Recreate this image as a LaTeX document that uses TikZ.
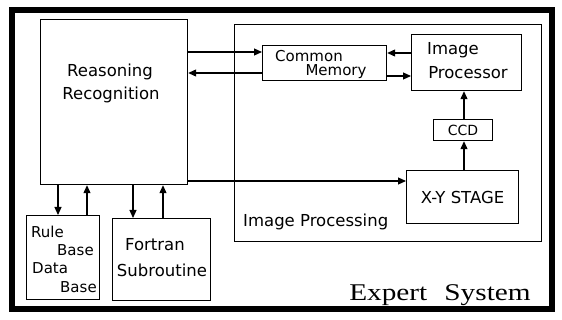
\documentclass[tikz,border=0pt]{standalone}
\usepackage{fontspec}
\setmainfont{Liberation Serif}
\newfontfamily\diagsans{DejaVu Sans}
\usetikzlibrary{arrows.meta}
\begin{document}
\begin{tikzpicture}[x=1pt,y=-1pt,
  box/.style={draw, line width=1.2pt, inner sep=0pt, anchor=north west},
  txt/.style={font=\diagsans\fontsize{16.5}{18}\selectfont, inner sep=0pt},
  mid/.style={font=\diagsans\fontsize{15}{16}\selectfont, inner sep=0pt},
  small/.style={font=\diagsans\fontsize{15}{17}\selectfont, inner sep=0pt, anchor=west},
  arr/.style={line width=1.1pt, -{Triangle[length=8pt,width=7pt]}},
]
\fill[white] (0,0) rectangle (562,320);
\useasboundingbox (0,0) rectangle (562,320);

% outer frame of the expert system
\draw[line width=6pt] (12,10) rectangle (552,309);

% main blocks
\node[box, minimum width=147pt, minimum height=165pt] (rr) at (40,19) {};
\node[box, line width=1.4pt, minimum width=307pt, minimum height=217pt] (ipg) at (234,24) {};
\node[box, minimum width=124pt, minimum height=35pt] (cm) at (262,45) {};
\node[box, minimum width=110pt, minimum height=56pt] (ip) at (411,34) {};
\node[box, minimum width=59pt, minimum height=21pt, txt, font=\diagsans\fontsize{14}{16}\selectfont] (ccd) at (433,119) {CCD};
\node[box, minimum width=112pt, minimum height=53pt, txt] (xy) at (406,170) {X-Y STAGE};
\node[box, minimum width=73pt, minimum height=84pt] (rb) at (26,215) {};
\node[box, minimum width=98pt, minimum height=82pt] (fs) at (112,218) {};

% labels
\node[txt] (t1) at (110,72) {Reasoning};
\node[txt] (t2) at (111,95) {Recognition};
\node[mid] (t3) at (309,56) {Common};
\node[mid] (t4) at (336,72) {Memory};
\node[txt] (t5) at (453,50) {Image};
\node[txt] (t6) at (468,73) {Processor};
\node[txt, anchor=west] (t7) at (243,222) {Image Processing};
\node[small] (t8) at (31,232) {Rule};
\node[small] (t9) at (57,250) {Base};
\node[small] (t10) at (32,268) {Data};
\node[small] (t11) at (60,287) {Base};
\node[txt] (t12) at (155,245) {Fortran};
\node[txt] (t13) at (162,270) {Subroutine};
\node[inner sep=0pt, font=\fontsize{24}{26}\selectfont] (t14) at (440,295)
  {\scalebox{1.22}[1]{Expert\hspace{14pt}System}};

% connectors
\draw[arr] (rr.east |- 0,52) -- (cm.west |- 0,52);
\draw[arr] (cm.west |- 0,73) -- (rr.east |- 0,73);
\draw[arr] (ip.west |- 0,53) -- (cm.east |- 0,53);
\draw[arr] (cm.east |- 0,76) -- (ip.west |- 0,76);
\draw[arr] (ccd.north -| 464,0) -- (ip.south -| 464,0);
\draw[arr] (xy.north -| 464,0) -- (ccd.south -| 464,0);
\draw[arr] (rr.east |- 0,181) -- (xy.west |- 0,181);
\draw[arr] (rr.south -| 58,0) -- (rb.north -| 58,0);
\draw[arr] (rb.north -| 87,0) -- (rr.south -| 87,0);
\draw[arr] (rr.south -| 133,0) -- (fs.north -| 133,0);
\draw[arr] (fs.north -| 163,0) -- (rr.south -| 163,0);
\end{tikzpicture}
\end{document}
